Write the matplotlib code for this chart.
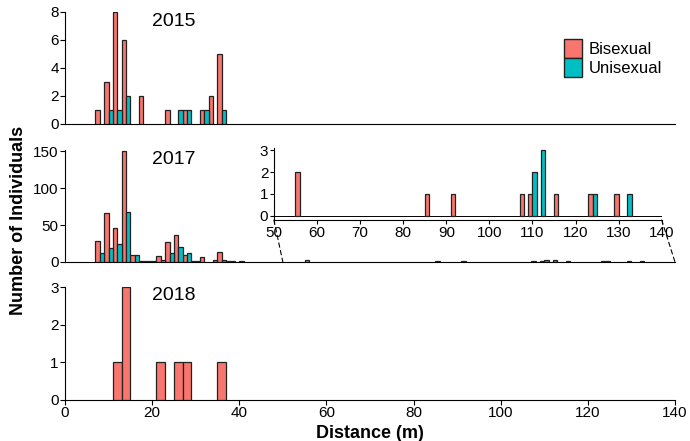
import matplotlib
matplotlib.use("Agg")
import matplotlib.pyplot as plt
from matplotlib.patches import Patch, ConnectionPatch
import numpy as np

plt.rcParams['font.family'] = ['Liberation Sans', 'DejaVu Sans']

# bins are 2 m wide, given by their left edge
bis_2015_bins = [7, 9, 11, 13, 17, 23, 27, 31, 33, 35]
bis_2015 = [1, 3, 8, 6, 2, 1, 1, 1, 2, 5]
uni_2015_bins = [9, 11, 13, 25, 27, 31, 35]
uni_2015 = [1, 1, 2, 1, 1, 1, 1]

bis_2017_bins = [7, 9, 11, 13, 15, 17, 19, 21, 23, 25, 27, 29, 31, 35, 37,
                 55, 85, 91, 107, 109, 115, 123, 129]
bis_2017 = [28, 66, 46, 151, 10, 1, 1, 8, 27, 36, 9, 1, 7, 13, 1,
            2, 1, 1, 1, 1, 1, 1, 1]
uni_2017_bins = [7, 9, 11, 13, 15, 17, 19, 21, 23, 25, 27, 29, 33, 35, 37, 39,
                 109, 111, 123, 131]
uni_2017 = [12, 19, 25, 68, 9, 1, 1, 3, 12, 20, 12, 1, 2, 2, 1, 1,
            2, 3, 1, 1]

bis_2018_bins = [11, 13, 21, 25, 27, 35]
bis_2018 = [1, 3, 1, 1, 1, 1]

pink = "#F8766D"
teal = "#00BFC4"
edge = "#222222"

fig = plt.figure(figsize=(6.9, 4.41), dpi=100)
L, W = 0.0942, 0.884
ax1 = fig.add_axes([L, 0.719, W, 0.254])
ax2 = fig.add_axes([L, 0.406, W, 0.254])
ax3 = fig.add_axes([L, 0.093, W, 0.256])

def style(ax, show_x):
    for s in ["top", "right"]:
        ax.spines[s].set_visible(False)
    ax.set_xlim(0, 140)
    ax.tick_params(labelsize=11, length=3.5, width=0.8, pad=1)
    if not show_x:
        ax.tick_params(axis="x", bottom=False, labelbottom=False)

def dodge(ax, bb, bv, ub, uv):
    ax.bar(np.array(bb) + 0.5, bv, width=1, color=pink, edgecolor=edge, linewidth=0.9, zorder=3)
    ax.bar(np.array(ub) + 1.5, uv, width=1, color=teal, edgecolor=edge, linewidth=0.9, zorder=3)

dodge(ax1, bis_2015_bins, bis_2015, uni_2015_bins, uni_2015)
ax1.set_ylim(0, 8)
ax1.set_yticks([0, 2, 4, 6, 8])
style(ax1, False)
ax1.text(25, 7.9, "2015", fontsize=14, ha="center", va="top")

dodge(ax2, bis_2017_bins, bis_2017, uni_2017_bins, uni_2017)
ax2.set_ylim(0, 152)
ax2.set_yticks([0, 50, 100, 150])
style(ax2, False)
ax2.text(25, 150, "2017", fontsize=14, ha="center", va="top")

ax3.bar(np.array(bis_2018_bins) + 1, bis_2018, width=2, color=pink, edgecolor=edge, linewidth=0.9, zorder=3)
ax3.set_ylim(0, 3)
ax3.set_yticks([0, 1, 2, 3])
ax3.set_xticks(np.arange(0, 141, 20))
style(ax3, True)
ax3.text(25, 3, "2018", fontsize=14, ha="center", va="top")

# inset zoom of 2017 tail
ins = fig.add_axes([0.397, 0.501, 0.562, 0.163])
dodge(ins, bis_2017_bins, bis_2017, uni_2017_bins, uni_2017)
ins.set_xlim(50, 140)
ins.set_ylim(-0.2, 3.1)
ins.set_yticks([0, 1, 2, 3])
ins.set_xticks(np.arange(50, 141, 10))
ins.axhline(0, color="black", linewidth=0.7, zorder=2)
for s in ["top", "right"]:
    ins.spines[s].set_visible(False)
ins.tick_params(labelsize=11, length=3, width=0.8, pad=1)
ins.patch.set_alpha(0)

for xv in [50, 140]:
    con = ConnectionPatch(xyA=(xv, -0.2), coordsA=ins.transData,
                          xyB=(xv, 0), coordsB=ax2.transData,
                          linestyle=(0, (4, 3)), color="black", linewidth=0.8)
    fig.add_artist(con)

handles = [Patch(facecolor=pink, edgecolor=edge, label="Bisexual"),
           Patch(facecolor=teal, edgecolor=edge, label="Unisexual")]
ax1.legend(handles=handles, loc="upper right", bbox_to_anchor=(0.99, 0.82),
           frameon=False, fontsize=12, handlelength=1.1, handleheight=1.4,
           handletextpad=0.4, labelspacing=0.0, borderaxespad=0)

fig.text(0.027, 0.5, "Number of Individuals", rotation=90, ha="center", va="center",
         fontsize=13, fontweight="bold")
fig.text(0.536, 0.018, "Distance (m)", ha="center", va="center",
         fontsize=13, fontweight="bold")

fig.savefig("out.png", dpi=100)
